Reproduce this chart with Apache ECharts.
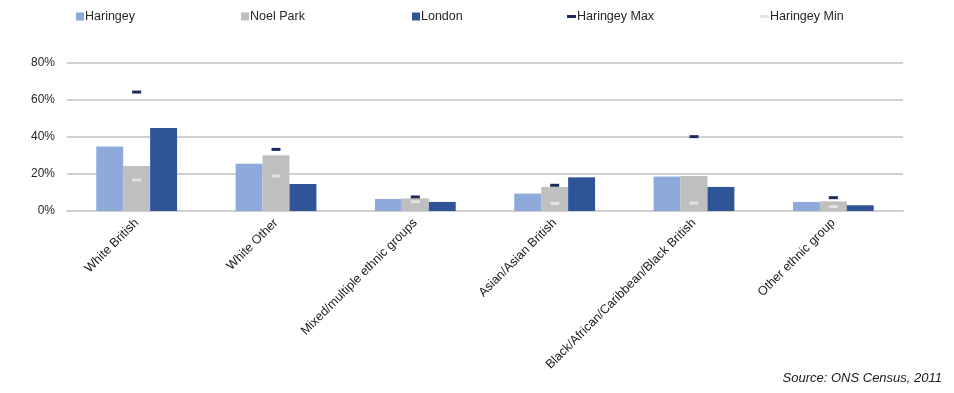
<!DOCTYPE html>
<html><head><meta charset="utf-8">
<script src="https://cdn.jsdelivr.net/npm/echarts@6/dist/echarts.min.js"></script>
<style>html,body{margin:0;padding:0;background:#fff}#c{width:954px;height:393px}</style>
</head><body><div id="c"></div>
<script>
const categories = ["White British","White Other","Mixed/multiple ethnic groups","Asian/Asian British","Black/African/Caribbean/Black British","Other ethnic group"];
const haringey = [34.8, 25.6, 6.5, 9.4, 18.6, 4.9];
const noelPark = [24.3, 30.1, 6.8, 13.0, 18.9, 5.2];
const london   = [44.9, 14.6, 4.9, 18.2, 13.0, 3.1];
const haringeyMax = [64.3, 33.3, 7.6, 13.9, 40.2, 7.2];
const haringeyMin = [16.8, 18.9, 5.0, 4.1, 4.3, 2.4];
const yTicks = [0, 20, 40, 60, 80];

const font = "Liberation Sans, Arial, sans-serif";
const chart = echarts.init(document.getElementById('c'));
function leg(name, left, dash){
  return {data:[{name:name, icon:'rect'}], left:left, top:5, itemWidth: dash?9:8, itemHeight: dash?3:8, itemGap:0,
    textStyle:{fontFamily:font, fontSize:12.5, color:'#262626', padding:[0,0,0,-4]}, selectedMode:false};
}
chart.setOption({
  animation:false,
  legend:[
    leg('Haringey', 71, false),
    leg('Noel Park', 236, false),
    leg('London', 407, false),
    leg('Haringey Max', 562, true),
    leg('Haringey Min', 755, true)
  ],
  grid:{left:67, right:51, top:63, bottom:182, containLabel:false},
  xAxis:{type:'category', data:categories,
    axisLine:{lineStyle:{color:'#d0d0d0', width:2}}, axisTick:{show:false},
    axisLabel:{rotate:45, interval:0, fontFamily:font, fontSize:12.5, color:'#1a1a1a', margin:10}},
  yAxis:{type:'value', min:yTicks[0], max:yTicks[yTicks.length-1], interval:20,
    axisLine:{show:false}, axisTick:{show:false},
    splitLine:{lineStyle:{color:'#d0d0d0', width:2}},
    axisLabel:{formatter:'{value}%', fontFamily:font, fontSize:12, color:'#262626', margin:12}},
  series:[
    {name:'Haringey', type:'bar', data:haringey, itemStyle:{color:'#8eaadb'}, barGap:'0%', barCategoryGap:'42%'},
    {name:'Noel Park', type:'bar', data:noelPark, itemStyle:{color:'#bfbfbf'}},
    {name:'London', type:'bar', data:london, itemStyle:{color:'#2f5597'}},
    {name:'Haringey Max', type:'scatter', data:haringeyMax, symbol:'rect', symbolSize:[9,3], itemStyle:{color:'#1f2b5c', opacity:1}, z:5},
    {name:'Haringey Min', type:'scatter', data:haringeyMin, symbol:'rect', symbolSize:[9,3], itemStyle:{color:'#e2e2e2', opacity:1}, z:5}
  ],
  graphic:[{type:'text', right:12, top:372, style:{text:'Source: ONS Census, 2011', font:'italic 13px '+font, fill:'#1a1a1a'}}]
});
</script></body></html>
